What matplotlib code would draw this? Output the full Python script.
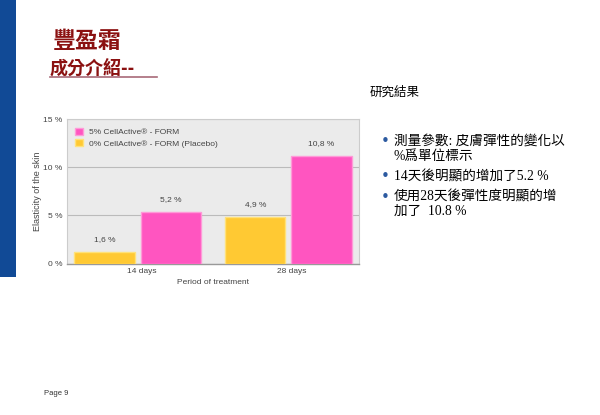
import matplotlib
matplotlib.use("Agg")
import matplotlib.pyplot as plt
from matplotlib.patches import Rectangle
import numpy as np

plt.rcParams['font.family'] = ['Liberation Sans', 'Noto Sans CJK TC', 'DejaVu Sans']

categories = ["14 days", "28 days"]
series_names = ["5% CellActive\u00ae - FORM", "0% CellActive\u00ae - FORM (Placebo)"]
active_values = [5.4, 11.2]
placebo_values = [1.2, 4.85]
active_labels = ["5,2 %", "10,8 %"]
placebo_labels = ["1,6 %", "4,9 %"]
yticks = [0, 5, 10, 15]
ytick_labels = ["0 %", "5 %", "10 %", "15 %"]

pink = "#ff55c0"
yellow = "#ffc933"
txt_grey = "#444444"
cjk = ['Noto Sans CJK TC', 'DejaVu Sans']
serif_mix = ['Liberation Serif', 'Noto Sans CJK TC', 'DejaVu Sans']

fig = plt.figure(figsize=(6, 4.15), dpi=100)
fig.patch.set_facecolor("white")

# left blue band
fig.add_artist(Rectangle((0, (415 - 277) / 415), 16 / 600, 277 / 415,
                         transform=fig.transFigure, color="#114a96", lw=0))

# titles
fig.text(53 / 600, 1 - 42 / 415, "豐盈霜", fontsize=16.5, color="#8b1111",
         fontweight="bold", va="center", ha="left", family=cjk)
fig.text(50 / 600, 1 - 68 / 415, "成分介紹--", fontsize=13, color="#8b1111",
         fontweight="bold", va="center", ha="left", family=cjk)
fig.add_artist(plt.Line2D([50 / 600, 157 / 600], [1 - 77.5 / 415, 1 - 77.5 / 415],
                          transform=fig.transFigure, color="#a86a78", lw=1.2))

fig.text(370 / 600, 1 - 92 / 415, "研究結果", fontsize=9, color="black",
         va="center", ha="left", family=cjk)

bullets = [
    (141.5, "測量參數: 皮膚彈性的變化以", True),
    (156, "%爲單位標示", False),
    (176.5, "14天後明顯的增加了5.2 %", True),
    (197, "使用28天後彈性度明顯的增", True),
    (211.5, "加了  10.8 %", False),
]
for y, t, b in bullets:
    if b:
        fig.text(381 / 600, 1 - y / 415, "•", fontsize=11, color="#2c5aa0",
                 va="center", ha="left", family=['DejaVu Sans'])
    fig.text(394 / 600, 1 - y / 415, t, fontsize=9.8, color="black",
             va="center", ha="left", family=serif_mix)

fig.text(44 / 600, 1 - 393 / 415, "Page 9", fontsize=5.5, color="#333333",
         va="center", ha="left")

# chart
ax = fig.add_axes([66.7 / 600, (415 - 263.5) / 415, (359 - 66.7) / 600, (263.5 - 119.3) / 415])
ax.set_facecolor("#ebebeb")
x = np.arange(len(categories))
off = 0.22
w = 0.40
b1 = ax.bar(x - off, placebo_values, w, color=yellow, edgecolor="#ffe27a", lw=1.0,
            label=series_names[1], zorder=3)
b2 = ax.bar(x + off, active_values, w, color=pink, edgecolor="#ff9ad8", lw=1.0,
            label=series_names[0], zorder=3)

for rect, lab in zip(b1, placebo_labels):
    ax.annotate(lab, (rect.get_x() + rect.get_width() / 2, rect.get_height()),
                xytext=(0, 6.5), textcoords="offset points", ha="center", va="bottom",
                fontsize=6, color=txt_grey)
for rect, lab in zip(b2, active_labels):
    ax.annotate(lab, (rect.get_x() + rect.get_width() / 2, rect.get_height()),
                xytext=(0, 6.5), textcoords="offset points", ha="center", va="bottom",
                fontsize=6, color=txt_grey)

ax.set_xlim(-0.471, 1.469)
ax.set_ylim(0, 15)
ax.set_yticks(yticks)
ax.set_yticklabels(ytick_labels, fontsize=6, color=txt_grey)
ax.set_xticks(x + 0.025)
ax.set_xticklabels(categories, fontsize=6, color=txt_grey)
ax.tick_params(axis="both", length=0, pad=3)
ax.yaxis.grid(True, color="#bbbbbb", lw=0.8, zorder=0)
ax.set_axisbelow(True)
for s in ["top", "right", "left"]:
    ax.spines[s].set_color("#cccccc")
    ax.spines[s].set_linewidth(0.8)
ax.spines["bottom"].set_color("#999999")
ax.spines["bottom"].set_linewidth(1.0)

ax.set_xlabel("Period of treatment", fontsize=6, color=txt_grey, labelpad=3)
ax.set_ylabel("Elasticity of the skin", fontsize=6.5, color=txt_grey, labelpad=1)

handles = [b2, b1]
leg = ax.legend(handles, series_names, loc="upper left", bbox_to_anchor=(0.0, 1.0),
                frameon=False, fontsize=6, handlelength=0.9, handleheight=0.9,
                handletextpad=0.8, labelspacing=0.4, borderaxespad=0.6)
for t in leg.get_texts():
    t.set_color(txt_grey)

fig.savefig("out.png", dpi=100, facecolor="white")
